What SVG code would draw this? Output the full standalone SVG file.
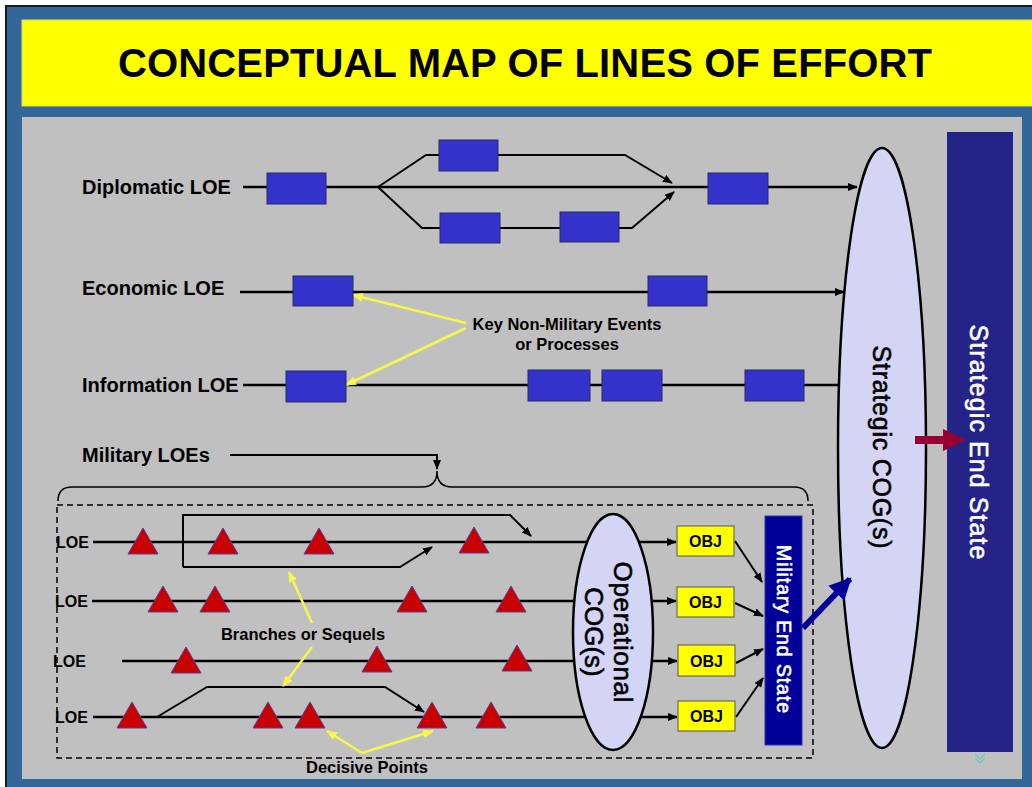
<svg xmlns="http://www.w3.org/2000/svg" xmlns:xlink="http://www.w3.org/1999/xlink" width="1032" height="787" viewBox="0 0 1032 787">
<style>
.lbl{font-family:"Liberation Sans",Arial,sans-serif;font-weight:bold;fill:#000}
.big{font-size:20px}
.loe{font-size:16px}
.note{font-size:16.5px;text-anchor:middle}
.ln{stroke:#000;stroke-width:2.5;fill:none}
.br{stroke:#000;stroke-width:2;fill:none}
.yl{stroke:#F7F74A;stroke-width:2.5;fill:none}
.box{fill:#3333CC;stroke:#2A2A66;stroke-width:1}
.tri{fill:#C80000;stroke:#5A3C9A;stroke-width:1}
.obj{fill:#FFFF00;stroke:#555;stroke-width:1}
.ell{fill:#D4D4F4;stroke:#000;stroke-width:2.5}
.vt{font-family:"Liberation Sans",Arial,sans-serif;text-anchor:middle;stroke-width:0.6}
.vk{fill:#000;stroke:#000}
.vw{fill:#fff;stroke:#fff}
</style>
<defs>
<marker id="ah" viewBox="0 0 10 10" refX="9" refY="5" markerWidth="10" markerHeight="10" markerUnits="userSpaceOnUse" orient="auto"><path d="M0,1 L10,5 L0,9 z" fill="#000"/></marker>
<marker id="ahy" viewBox="0 0 10 10" refX="9" refY="5" markerWidth="11" markerHeight="11" markerUnits="userSpaceOnUse" orient="auto"><path d="M0,1 L10,5 L0,9 z" fill="#F7F74A"/></marker>
<marker id="ahb" viewBox="0 0 10 10" refX="9" refY="5" markerWidth="22" markerHeight="22" markerUnits="userSpaceOnUse" orient="auto"><path d="M0,0 L10,5 L0,10 z" fill="#000099"/></marker>
<polygon id="tri" class="tri" points="-15,13 0,-13 15,13"/>
</defs>

<!-- frame -->
<rect x="0" y="0" width="1032" height="787" fill="#fff"/>
<rect x="6" y="6" width="1030" height="785" fill="#336699" stroke="#1a1a1a" stroke-width="2"/>
<rect x="22" y="20" width="1012" height="86" fill="#FFFF00" stroke="#E0E060" stroke-width="1"/>
<rect x="22" y="117" width="1000" height="662" fill="#C0C0C0"/>
<text class="lbl" x="525" y="77" font-size="40" text-anchor="middle" textLength="814">CONCEPTUAL MAP OF LINES OF EFFORT</text>

<!-- labels -->
<g id="labels">
<text class="lbl big" x="82" y="194">Diplomatic LOE</text>
<text class="lbl big" x="82" y="295">Economic LOE</text>
<text class="lbl big" x="82" y="392">Information LOE</text>
<text class="lbl big" x="82" y="462">Military LOEs</text>
<text class="lbl loe" x="56" y="548">LOE</text>
<text class="lbl loe" x="55" y="607">LOE</text>
<text class="lbl loe" x="53" y="667">LOE</text>
<text class="lbl loe" x="55" y="723">LOE</text>
<text class="lbl note" x="567" y="330">Key Non-Military  Events</text>
<text class="lbl note" x="567" y="350">or Processes</text>
<text class="lbl note" x="303" y="640">Branches or  Sequels</text>
<text class="lbl note" x="367" y="773">Decisive Points</text>
</g>

<!-- dashed military box and brace -->
<rect x="57" y="505" width="756" height="253" fill="none" stroke="#000" stroke-width="1.5" stroke-dasharray="6,4"/>
<path d="M58,501 Q58,487 72,487 H422 Q437,487 437,471 Q437,487 452,487 H794 Q808,487 808,501" fill="none" stroke="#000" stroke-width="1.5"/>

<g id="connectors">
<!-- diplomatic -->
<path class="ln" d="M243,187 H857" marker-end="url(#ah)"/>
<path class="br" d="M378,187 L426,155 H625 L672,183" marker-end="url(#ah)"/>
<path class="br" d="M378,187 L422,228 H632 L674,192" marker-end="url(#ah)"/>
<!-- economic -->
<path class="ln" d="M240,292 H844" marker-end="url(#ah)"/>
<!-- information -->
<path class="ln" d="M243,385 H842"/>
<!-- military LOEs pointer -->
<path d="M230,455 H437 V469" fill="none" stroke="#000" stroke-width="2" marker-end="url(#ah)"/>
<!-- military rows -->
<path class="ln" d="M93,542 H588"/>
<path class="ln" d="M638,542 H676" marker-end="url(#ah)"/>
<path class="ln" d="M92,601 H575"/>
<path class="ln" d="M651,601 H676" marker-end="url(#ah)"/>
<path class="ln" d="M122,661 H575"/>
<path class="ln" d="M651,661 H677" marker-end="url(#ah)"/>
<path class="ln" d="M93,717 H586"/>
<path class="ln" d="M640,717 H677" marker-end="url(#ah)"/>
<!-- branches -->
<path class="br" d="M183,567 V515 H510 L531,536" marker-end="url(#ah)"/>
<path class="br" d="M183,567 H400 L432,547" marker-end="url(#ah)"/>
<path class="br" d="M157,717 L207,687 H385 L424,712" marker-end="url(#ah)"/>
<!-- OBJ to military end state -->
<path class="br" d="M735,541 L762,582" marker-end="url(#ah)"/>
<path class="br" d="M735,603 L763,616" marker-end="url(#ah)"/>
<path class="br" d="M736,663 L763,649" marker-end="url(#ah)"/>
<path class="br" d="M736,717 L763,678" marker-end="url(#ah)"/>
<!-- yellow callouts -->
<path class="yl" d="M466,323 L353,295" marker-end="url(#ahy)"/>
<path class="yl" d="M466,328 L346,385" marker-end="url(#ahy)"/>
<path class="yl" d="M312,623 L289,572" marker-end="url(#ahy)"/>
<path class="yl" d="M312,647 L283,686" marker-end="url(#ahy)"/>
<path class="yl" d="M362,753 L327,731" marker-end="url(#ahy)"/>
<path class="yl" d="M362,753 L433,731" marker-end="url(#ahy)"/>
</g>

<!-- event boxes -->
<g id="events">
<rect id="d1" class="box" x="267" y="173" width="59" height="31"/>
<rect id="d2" class="box" x="439" y="140" width="59" height="31"/>
<rect id="d3" class="box" x="440" y="213" width="60" height="30"/>
<rect id="d4" class="box" x="560" y="212" width="59" height="30"/>
<rect id="d5" class="box" x="708" y="173" width="60" height="31"/>
<rect id="e1" class="box" x="293" y="276" width="60" height="30"/>
<rect id="e2" class="box" x="648" y="276" width="59" height="30"/>
<rect id="i1" class="box" x="286" y="371" width="60" height="31"/>
<rect id="i2" class="box" x="528" y="370" width="62" height="31"/>
<rect id="i3" class="box" x="602" y="370" width="60" height="31"/>
<rect id="i4" class="box" x="745" y="370" width="59" height="31"/>
</g>

<!-- decisive points -->
<g id="decisive-points">
<use id="t11" href="#tri" xlink:href="#tri" x="143" y="541"/>
<use id="t12" href="#tri" xlink:href="#tri" x="223" y="541"/>
<use id="t13" href="#tri" xlink:href="#tri" x="319" y="541"/>
<use id="t14" href="#tri" xlink:href="#tri" x="474" y="540"/>
<use id="t21" href="#tri" xlink:href="#tri" x="163" y="599"/>
<use id="t22" href="#tri" xlink:href="#tri" x="215" y="599"/>
<use id="t23" href="#tri" xlink:href="#tri" x="412" y="599"/>
<use id="t24" href="#tri" xlink:href="#tri" x="511" y="599"/>
<use id="t31" href="#tri" xlink:href="#tri" x="186" y="660"/>
<use id="t32" href="#tri" xlink:href="#tri" x="377" y="659"/>
<use id="t33" href="#tri" xlink:href="#tri" x="517" y="658"/>
<use id="t41" href="#tri" xlink:href="#tri" x="132" y="715"/>
<use id="t42" href="#tri" xlink:href="#tri" x="268" y="715"/>
<use id="t43" href="#tri" xlink:href="#tri" x="310" y="715"/>
<use id="t44" href="#tri" xlink:href="#tri" x="432" y="715"/>
<use id="t45" href="#tri" xlink:href="#tri" x="491" y="715"/>
</g>

<g id="operational-cog">
<ellipse class="ell" cx="613" cy="632" rx="40" ry="118"/>
<g transform="translate(613,632) rotate(90)">
<text class="vt vk" x="0" y="-0.5" font-size="26" textLength="141">Operational</text>
<text class="vt vk" x="0" y="28" font-size="26">COG(s)</text>
</g>
</g>

<g id="objectives">
<rect class="obj" x="677" y="526" width="57" height="30"/>
<text class="lbl" x="705.5" y="547" font-size="16" text-anchor="middle">OBJ</text>
<rect class="obj" x="677" y="587" width="57" height="30"/>
<text class="lbl" x="705.5" y="608" font-size="16" text-anchor="middle">OBJ</text>
<rect class="obj" x="678" y="645" width="57" height="31"/>
<text class="lbl" x="706.5" y="667" font-size="16" text-anchor="middle">OBJ</text>
<rect class="obj" x="678" y="701" width="57" height="30"/>
<text class="lbl" x="706.5" y="722" font-size="16" text-anchor="middle">OBJ</text>
</g>

<g id="military-end-state">
<rect x="765" y="516" width="37" height="229" fill="#000099" stroke="#3333AA" stroke-width="1"/>
<text class="vt vw" transform="translate(783.5,629) rotate(90)" y="7" font-size="19.5" textLength="168">Military End State</text>
</g>

<g id="strategic-cog">
<ellipse class="ell" cx="882" cy="448" rx="44" ry="300"/>
<text class="vt vk" transform="translate(882,447) rotate(90)" y="9" font-size="25" textLength="203">Strategic COG(s)</text>
</g>

<g id="strategic-end-state">
<rect x="947" y="132" width="66" height="620" fill="#232388"/>
<text class="vt vw" transform="translate(979,442) rotate(90)" y="9" font-size="25" textLength="235">Strategic End State</text>
</g>

<g id="connectors-overlay">
<path d="M803,628 L850,579" fill="none" stroke="#000099" stroke-width="6" marker-end="url(#ahb)"/>
<polygon points="915,436 943,436 943,429 966,440 943,451 943,444 915,444" fill="#990033"/>
<path d="M975,754 L980,759 L985,754 M975,758 L980,763 L985,758" fill="none" stroke="#66CCBB" stroke-width="1.2"/>
</g>
</svg>
